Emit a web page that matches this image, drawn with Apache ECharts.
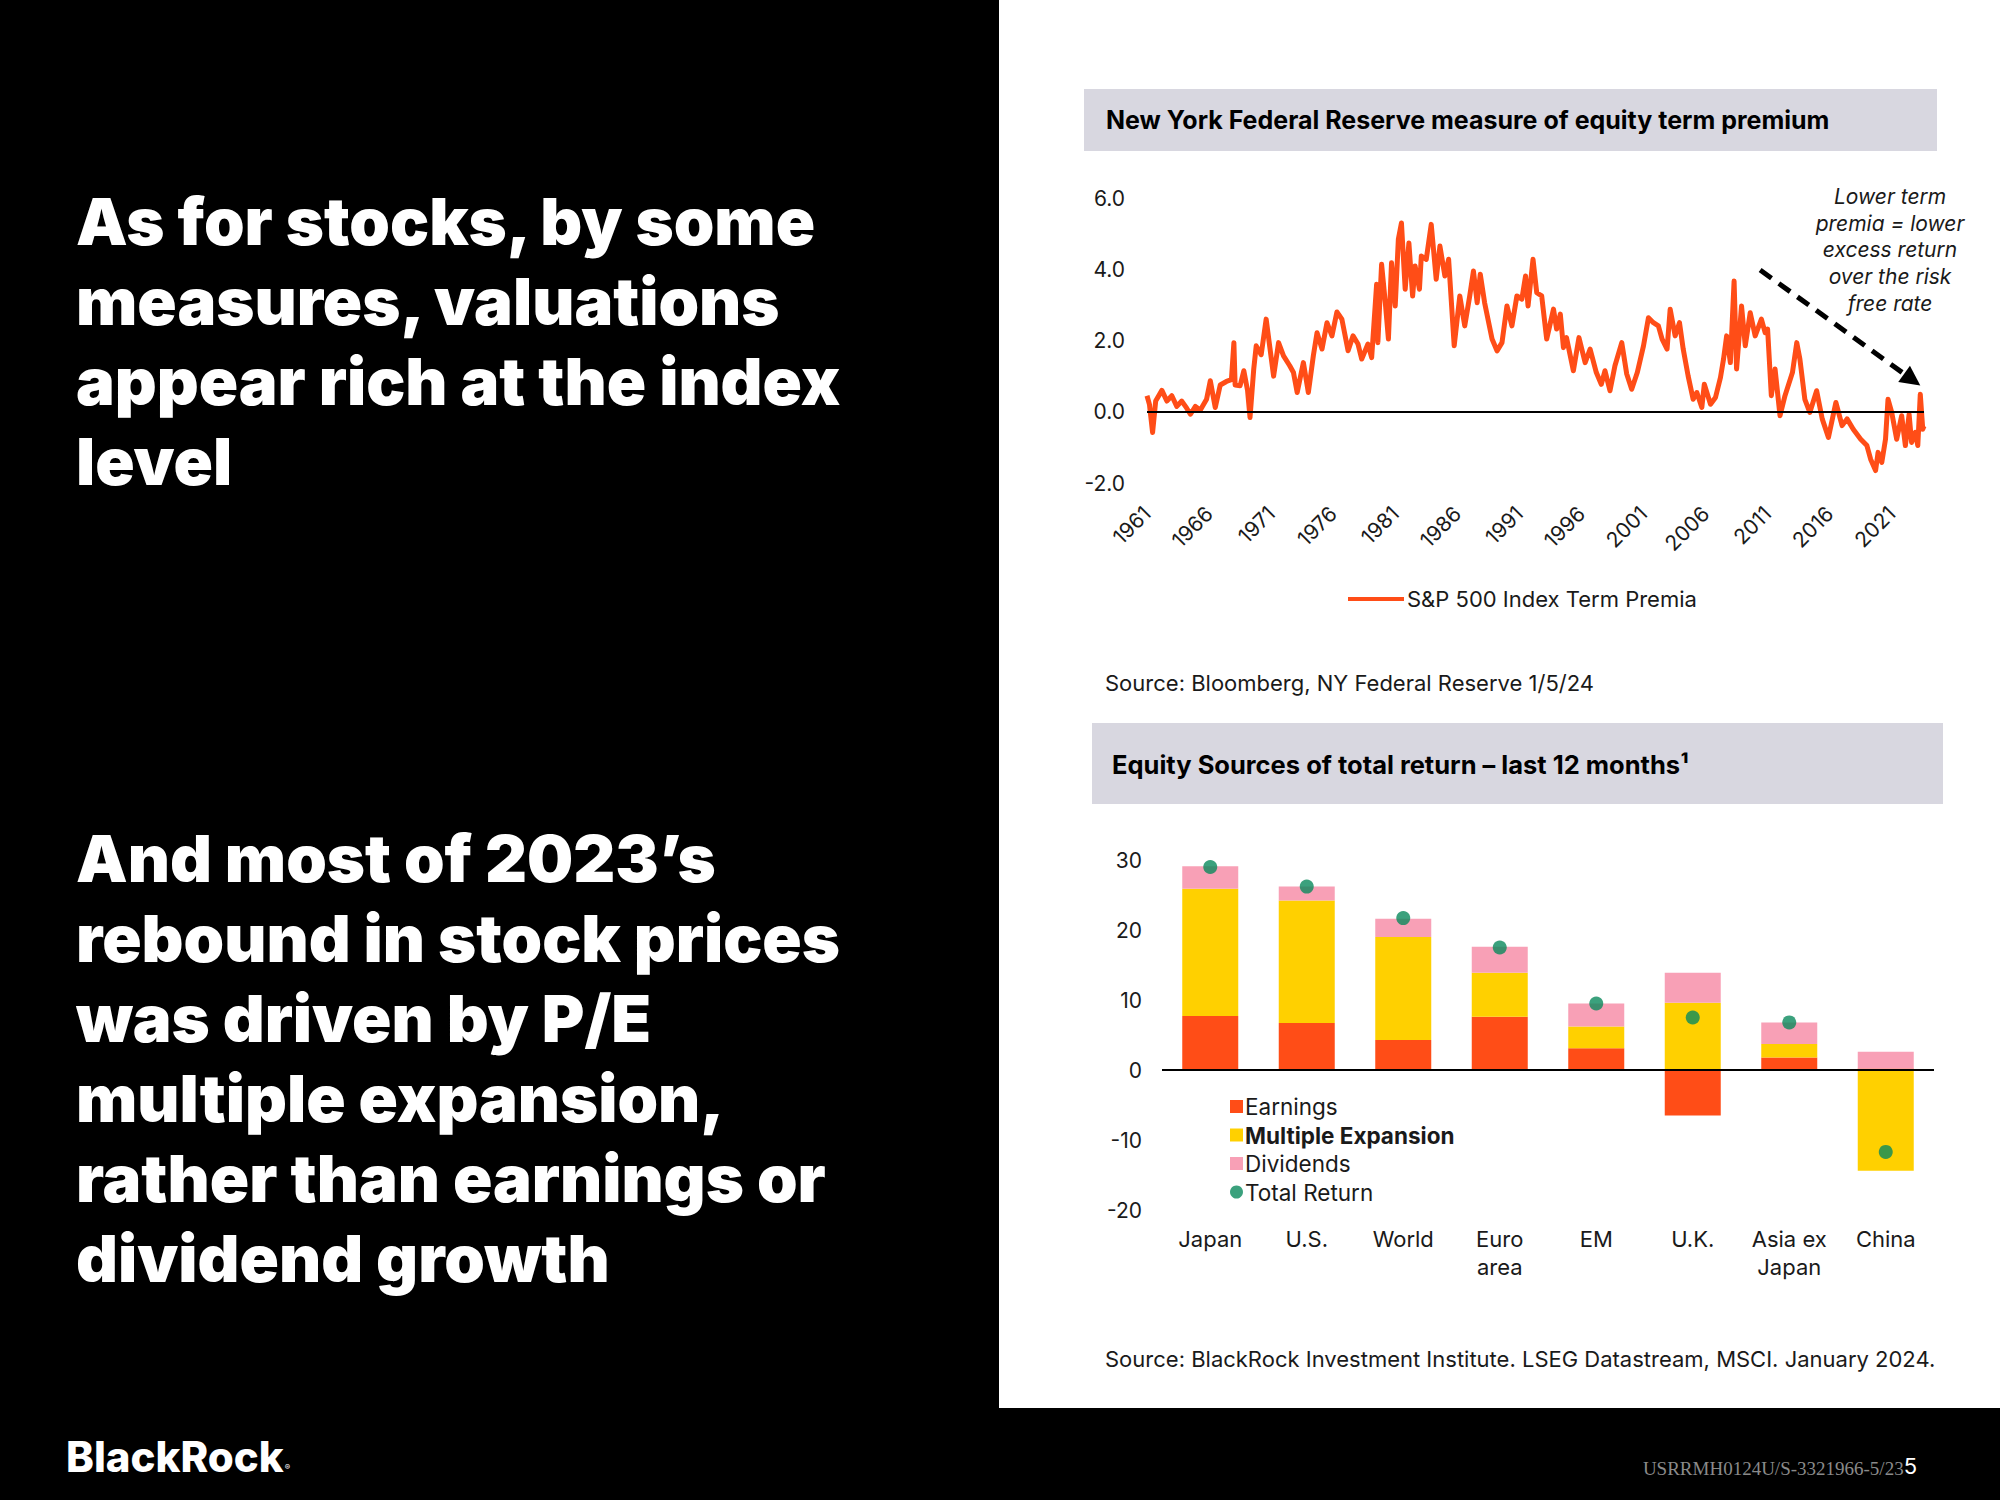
<!DOCTYPE html>
<html>
<head>
<meta charset="utf-8">
<script src="https://cdn.jsdelivr.net/npm/echarts@6/dist/echarts.min.js"></script>
<style>
html,body{margin:0;padding:0;background:#000;}
#chart{width:2000px;height:1500px;}
</style>
</head>
<body>
<div id="chart"></div>
<script>
// ---- Top chart: S&P 500 Index Term Premia ----
const termYears = [
1961.0,1961.2,1961.45,1961.7,1962.2,1962.6,1963.0,1963.4,1963.8,1964.2,1964.5,1964.9,1965.3,1965.8,
1966.1,1966.5,1966.9,1967.4,1967.8,1968.0,1968.1,1968.5,1968.8,1969.1,1969.3,1969.6,1969.8,1970.2,
1970.6,1970.9,1971.2,1971.6,1972.0,1972.5,1972.8,1973.1,1973.6,1974.0,1974.4,1974.7,1975.1,1975.5,
1975.9,1976.3,1976.7,1977.2,1977.6,1978.0,1978.3,1978.8,1979.1,1979.5,1979.6,1979.9,1980.2,1980.45,
1980.7,1981.0,1981.25,1981.5,1981.8,1982.1,1982.4,1982.6,1982.95,1983.1,1983.5,1983.9,1984.3,1984.6,
1985.0,1985.3,1985.75,1986.2,1986.6,1987.0,1987.3,1987.6,1987.85,1988.2,1988.8,1989.2,1989.6,1990.0,
1990.4,1990.8,1991.2,1991.5,1991.7,1992.1,1992.4,1992.8,1993.2,1993.75,1994.0,1994.3,1994.55,1994.8,
1995.35,1995.8,1996.3,1996.7,1997.2,1997.6,1997.9,1998.3,1998.7,1999.25,1999.65,2000.05,2000.5,2001.0,
2001.4,2001.8,2002.2,2002.5,2002.9,2003.15,2003.55,2003.9,2004.2,2004.6,2005.0,2005.3,2005.7,2005.9,
2006.4,2006.8,2007.2,2007.45,2007.7,2008.0,2008.3,2008.5,2008.9,2009.2,2009.6,2010.0,2010.5,2010.8,
2011.0,2011.3,2011.6,2012.0,2012.4,2013.0,2013.35,2013.6,2014.0,2014.4,2014.95,2015.4,2015.9,2016.5,
2017.0,2017.4,2017.9,2018.5,2019.0,2019.3,2019.7,2019.9,2020.2,2020.5,2020.7,2021.0,2021.4,2021.8,
2022.1,2022.4,2022.6,2022.9,2023.1,2023.3,2023.5,2023.6
];
const termValues = [
0.45,0.2,-0.58,0.3,0.6,0.3,0.45,0.15,0.3,0.1,-0.07,0.15,0.05,0.35,
0.87,0.12,0.75,0.85,0.9,1.94,0.75,0.73,1.15,0.6,-0.16,1.2,1.85,1.6,
2.6,1.8,1.0,1.94,1.57,1.29,1.1,0.54,1.38,0.54,1.57,2.22,1.76,2.5,
2.13,2.8,2.6,1.71,2.13,1.9,1.48,1.9,1.52,3.58,1.94,4.14,3.06,2.04,
4.18,2.97,4.84,5.3,3.44,4.74,3.25,4.09,3.44,4.37,4.28,5.26,3.72,4.65,
3.81,4.28,1.85,3.25,2.41,3.25,3.95,3.06,3.86,3.06,2.04,1.71,1.94,2.97,
2.41,3.25,3.16,3.81,2.97,4.28,3.34,3.25,2.04,2.88,2.32,2.74,1.8,2.08,
1.15,2.08,1.38,1.76,1.1,0.77,1.15,0.59,1.29,1.94,1.06,0.63,1.1,1.85,
2.64,2.5,2.41,2.04,1.76,2.88,2.13,2.5,1.76,1.0,0.35,0.54,0.12,0.77,
0.21,0.4,0.96,1.48,2.13,1.38,3.67,1.2,2.97,1.85,2.78,2.13,2.6,2.22,
2.32,0.45,1.2,-0.11,0.45,1.1,1.94,1.48,0.35,-0.02,0.59,-0.2,-0.72,0.26,
-0.39,-0.2,-0.49,-0.77,-0.95,-1.33,-1.65,-1.14,-1.42,-0.77,0.35,-0.02,-0.77,-0.11,
-0.95,-0.07,-0.86,-0.58,-0.95,0.49,-0.49,-0.4
];
const termLabelYears = [1961,1966,1971,1976,1981,1986,1991,1996,2001,2006,2011,2016,2021];

// ---- Bottom chart: Equity sources of total return ----
const categories = ['Japan','U.S.','World','Euro\narea','EM','U.K.','Asia ex\nJapan','China'];
const earnings = [7.7,6.7,4.3,7.6,3.1,-6.5,1.8,0.2];
const multipleExpansion = [18.2,17.5,14.7,6.3,3.1,9.6,1.9,-14.4];
const dividends = [3.2,2.0,2.6,3.7,3.3,4.3,3.1,2.4];
const totalReturn = [29.0,26.2,21.7,17.5,9.5,7.5,6.8,-11.7];

const FONT = 'Inter, "Noto Sans", sans-serif';
const TXT = '#1a1a1a';
const ORANGE = '#ff4d17';
const YELLOW = '#ffd000';
const PINK = '#f8a0b6';
const GREEN = '#0a8a5c';

// size headline font so that its lines match the slide's widths
function fitSize(text, weight, family, target) {
  const c = document.createElement('canvas').getContext('2d');
  c.font = weight + ' 100px ' + family;
  return 100 * target / c.measureText(text).width;
}
const HEAD_FAMILY = 'Inter, sans-serif';
const HEAD_SIZE = Math.min(69, 1.015 * fitSize('As for stocks, by some', 900, HEAD_FAMILY, 732));

const chart = echarts.init(document.getElementById('chart'), null, {renderer: 'svg'});

const option = {
  backgroundColor: '#000',
  animation: false,
  textStyle: {fontFamily: FONT},
  graphic: [
    {type:'rect', z:-10, shape:{x:999,y:0,width:1001,height:1408}, style:{fill:'#fff'}},
    {type:'rect', z:-9, shape:{x:1084,y:89,width:853,height:62}, style:{fill:'#d8d7e0'}},
    {type:'rect', z:-9, shape:{x:1092,y:723,width:851,height:81}, style:{fill:'#d8d7e0'}},
    {type:'text', x:1106, y:120, style:{text:'New York Federal Reserve measure of equity term premium', font:'bold 25px '+FONT, fill:'#000', textVerticalAlign:'middle'}},
    {type:'text', x:1112, y:764, style:{text:'Equity Sources of total return \u2013 last 12 months\u00b9', font:'bold 25.5px '+FONT, fill:'#000', textVerticalAlign:'middle'}},
    {type:'text', x:1105, y:683, style:{text:'Source: Bloomberg, NY Federal Reserve 1/5/24', font:'22px '+FONT, fill:TXT, textVerticalAlign:'middle'}},
    {type:'text', x:1105, y:1359, style:{text:'Source: BlackRock Investment Institute. LSEG Datastream, MSCI. January 2024.', font:'22px '+FONT, fill:TXT, textVerticalAlign:'middle'}},
    {type:'text', x:1890, y:183, style:{text:'Lower term\npremia = lower\nexcess return\nover the risk\nfree rate', font:'italic 21px '+FONT, lineHeight:26.7, fill:TXT, textAlign:'center', textVerticalAlign:'top'}},
    {type:'text', x:76, y:181, style:{text:'As for stocks, by some\nmeasures, valuations\nappear rich at the index\nlevel', font:'900 '+HEAD_SIZE+'px '+HEAD_FAMILY, lineHeight:80, fill:'#fff', textVerticalAlign:'top'}},
    {type:'text', x:76, y:818, style:{text:'And most of 2023\u2019s\nrebound in stock prices\nwas driven by P/E\nmultiple expansion,\nrather than earnings or\ndividend growth', font:'900 '+HEAD_SIZE+'px '+HEAD_FAMILY, lineHeight:80, fill:'#fff', textVerticalAlign:'top'}},
    {type:'text', x:66, y:1456, style:{
      text:'{a|BlackRock}{b|\u00ae}', fill:'#fff', textVerticalAlign:'middle',
      rich:{a:{font:'800 42px '+FONT, fill:'#fff'}, b:{font:'8px '+FONT, fill:'#fff', padding:[22,0,0,1]}}
    }},
    {type:'text', x:1917, y:1468, style:{
      text:'{a|USRRMH0124U/S-3321966-5/23}{b|5}', textAlign:'right', textVerticalAlign:'middle',
      rich:{a:{font:'19px "Liberation Serif", serif', fill:'#8a8a8a'}, b:{font:'22px '+FONT, fill:'#fff', padding:[0,0,4,0]}}
    }}
  ],
  legend: [
    {
      data: ['S&P 500 Index Term Premia'],
      left: 1343, top: 583,
      icon: 'rect', itemWidth: 56, itemHeight: 4, itemGap: 4,
      textStyle: {fontSize: 22, color: TXT, fontFamily: FONT, padding:[0,0,0,-2]}
    },
    {
      orient: 'vertical',
      left: 1225, top: 1090,
      itemWidth: 13, itemHeight: 13, itemGap: 5.5,
      textStyle: {fontSize: 22.5, color: TXT, fontFamily: FONT, padding:[0,0,0,-3]},
      data: [
        {name:'Earnings', icon:'rect'},
        {name:'Multiple Expansion', icon:'rect', textStyle:{fontWeight:'bold'}},
        {name:'Dividends', icon:'rect'},
        {name:'Total Return', icon:'circle'}
      ]
    }
  ],
  grid: [
    {left: 1147, top: 198, width: 777, height: 285},
    {left: 1162, top: 860, width: 772, height: 350}
  ],
  xAxis: [
    {
      type: 'value', gridIndex: 0, min: 1961, max: 2023.6, interval: 1,
      axisLine: {show: false}, axisTick: {show: false}, splitLine: {show: false},
      axisLabel: {
        rotate: 45, margin: 27, fontSize: 21, color: TXT, fontFamily: FONT,
        showMaxLabel: false,
        formatter: function (v) { return termLabelYears.indexOf(v) >= 0 ? String(v) : ''; }
      }
    },
    {
      type: 'category', gridIndex: 1, data: categories,
      axisLine: {show: false}, axisTick: {show: false}, splitLine: {show: false},
      axisLabel: {fontSize: 22, lineHeight: 28, color: TXT, margin: 15, fontFamily: FONT, interval: 0}
    }
  ],
  yAxis: [
    {
      type: 'value', gridIndex: 0, min: -2, max: 6, interval: 2,
      axisLine: {show: false}, axisTick: {show: false}, splitLine: {show: false},
      axisLabel: {fontSize: 21, color: TXT, margin: 22, fontFamily: FONT, formatter: function (v) { return v.toFixed(1); }}
    },
    {
      type: 'value', gridIndex: 1, min: -20, max: 30, interval: 10,
      axisLine: {show: false}, axisTick: {show: false}, splitLine: {show: false},
      axisLabel: {fontSize: 21, color: TXT, margin: 20, fontFamily: FONT}
    }
  ],
  series: [
    {
      name: 'S&P 500 Index Term Premia', type: 'line', xAxisIndex: 0, yAxisIndex: 0,
      data: termYears.map(function (y, i) { return [y, termValues[i]]; }),
      showSymbol: false, symbol: 'none', color: ORANGE,
      lineStyle: {width: 5, color: ORANGE, join: 'round'}, z: 3,
      markLine: {
        silent: true, symbol: 'none', label: {show: false}, animation: false,
        data: [
          {yAxis: 0, lineStyle: {color: '#000', width: 2, type: 'solid'}},
          [
            {coord: [2010.4, 3.98], symbol: 'none', lineStyle: {color: '#000', width: 5, type: [14, 9]}},
            {coord: [2022.65, 0.9], symbol: 'triangle', symbolSize: [20, 20], itemStyle: {color: '#000'}}
          ]
        ]
      }
    },
    {
      name: 'Earnings', type: 'bar', xAxisIndex: 1, yAxisIndex: 1, stack: 'src',
      barWidth: 56, color: ORANGE, data: earnings,
      markLine: {
        silent: true, symbol: 'none', label: {show: false},
        data: [{yAxis: 0}], lineStyle: {color: '#000', width: 2, type: 'solid'}
      }, z: 2
    },
    {name: 'Multiple Expansion', type: 'bar', xAxisIndex: 1, yAxisIndex: 1, stack: 'src', barWidth: 56, color: YELLOW, data: multipleExpansion},
    {name: 'Dividends', type: 'bar', xAxisIndex: 1, yAxisIndex: 1, stack: 'src', barWidth: 56, color: PINK, data: dividends},
    {name: 'Total Return', type: 'scatter', xAxisIndex: 1, yAxisIndex: 1, symbolSize: 14, color: GREEN, data: totalReturn, z: 5}
  ]
};
chart.setOption(option);
</script>
</body>
</html>
